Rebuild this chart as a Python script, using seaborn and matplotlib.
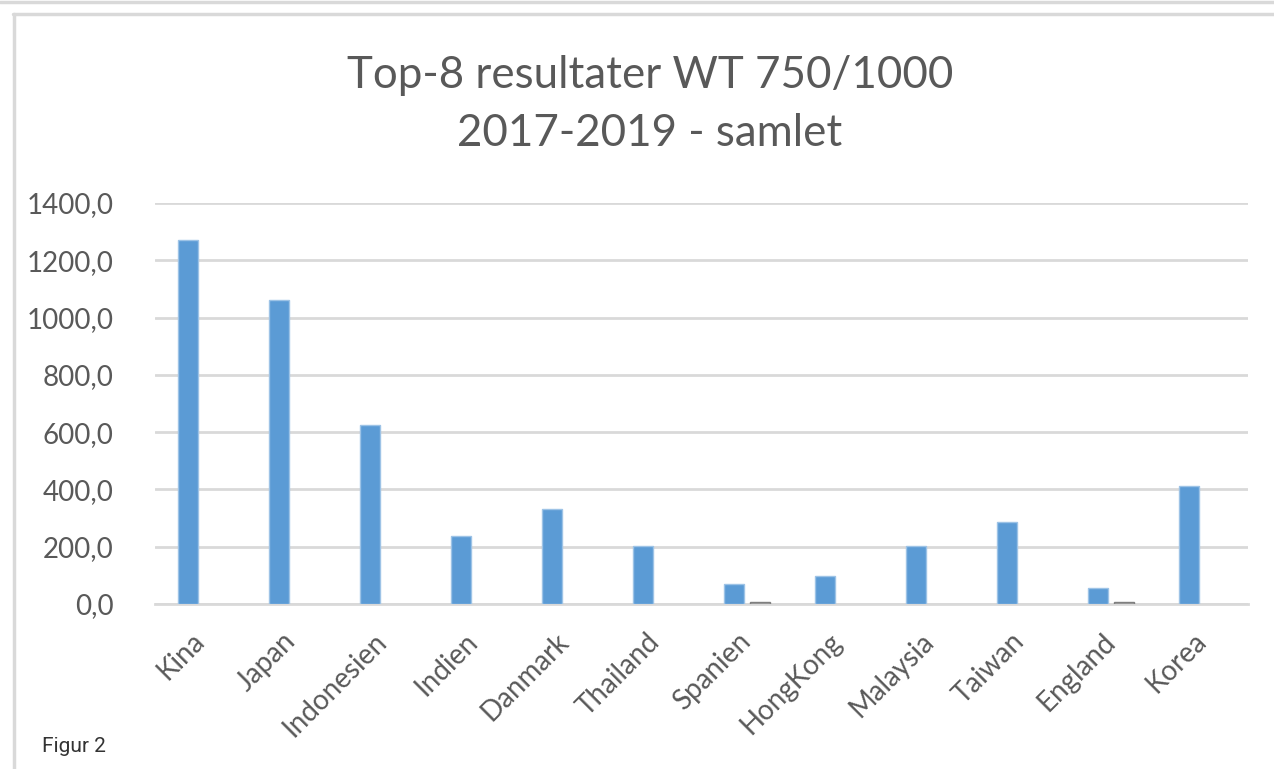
import matplotlib.pyplot as plt
import pandas as pd
import seaborn as sns
from matplotlib.lines import Line2D
from matplotlib.ticker import FuncFormatter


LANDE = ["Kina", "Japan", "Indonesien", "Indien", "Danmark", "Thailand",
         "Spanien", "HongKong", "Malaysia", "Taiwan", "England", "Korea"]
SERIE_1 = [1272, 1060, 625, 239, 330, 204, 69, 98, 204, 286, 56, 412]
SERIE_2 = [None, None, None, None, None, None, 7, None, None, None, 6, None]
SERIE_NAVNE = ["Serie1", "Serie2"]
FARVER = ["#5B9BD5", "#A5A5A5"]
KANTER = ["#9DC3E6", "#7F7F7F"]
Y_TICKS = [0, 200, 400, 600, 800, 1000, 1200, 1400]

TEKST = "#595959"
GITTER = "#D9D9D9"


def build_frame() -> pd.DataFrame:
    rows = []
    for navn, vals in zip(SERIE_NAVNE, [SERIE_1, SERIE_2]):
        for land, v in zip(LANDE, vals):
            rows.append({"land": land, "serie": navn, "vaerdi": v})
    df = pd.DataFrame(rows)
    df["vaerdi"] = pd.to_numeric(df["vaerdi"])
    return df


def main() -> None:
    df = build_frame()
    sns.set_theme(style="white")
    plt.rcParams["font.family"] = ["Lato", "DejaVu Sans"]

    W, H = 1274, 769
    fig = plt.figure(figsize=(W / 100, H / 100), dpi=100)
    ax = fig.add_axes([155 / W, 1 - 604 / H, (1248 - 155) / W, (604 - 203) / H])

    sns.barplot(data=df, x="land", y="vaerdi", hue="serie", hue_order=SERIE_NAVNE,
                palette=FARVER, width=0.57, gap=0.23, errorbar=None, legend=False,
                saturation=1, ax=ax, zorder=3)
    for cont, kant in zip(ax.containers, KANTER):
        for bar in cont:
            bar.set_edgecolor(kant)
            bar.set_linewidth(1)

    ax.set_xlim(-0.5, len(LANDE) - 0.5)
    ax.set_ylim(0, 1400)
    ax.set_yticks(Y_TICKS)
    ax.yaxis.set_major_formatter(FuncFormatter(lambda v, _: f"{v:.1f}".replace(".", ",")))
    ax.grid(axis="y", color=GITTER, linewidth=2, zorder=0)
    ax.set_axisbelow(True)
    for side in ["top", "right", "left"]:
        ax.spines[side].set_visible(False)
    ax.spines["bottom"].set_color(GITTER)
    ax.spines["bottom"].set_linewidth(2)
    ax.set_xlabel("")
    ax.set_ylabel("")
    ax.tick_params(axis="y", length=0, pad=30, labelsize=20, labelcolor=TEKST)
    ax.tick_params(axis="x", length=0, pad=24, labelsize=20, labelcolor=TEKST)
    for lab in ax.get_xticklabels():
        lab.set_rotation(45)
        lab.set_ha("right")
        lab.set_va("center")
        lab.set_rotation_mode("anchor")

    fig.text(650 / W, 1 - 88 / H, "Top-8 resultater WT 750/1000", ha="center",
             va="baseline", fontsize=31.6, color=TEKST)
    fig.text(650 / W, 1 - 146 / H, "2017-2019 - samlet", ha="center",
             va="baseline", fontsize=31.6, color=TEKST)
    fig.text(42 / W, 1 - 752 / H, "Figur 2", ha="left", va="baseline", fontsize=15,
             color="#333333", family=["Roboto", "DejaVu Sans"])

    # ramme omkring diagrammet
    fig.add_artist(Line2D([0, 1], [1 - 1.5 / H, 1 - 1.5 / H], transform=fig.transFigure,
                          color=GITTER, linewidth=2.5))
    fig.add_artist(Line2D([13 / W, 1], [1 - 13.5 / H, 1 - 13.5 / H], transform=fig.transFigure,
                          color=GITTER, linewidth=2.5))
    fig.add_artist(Line2D([13.5 / W, 13.5 / W], [0, 1 - 13.5 / H], transform=fig.transFigure,
                          color=GITTER, linewidth=2.5))

    fig.savefig("out.png", dpi=100, facecolor="white")
    plt.close(fig)


if __name__ == "__main__":
    main()
